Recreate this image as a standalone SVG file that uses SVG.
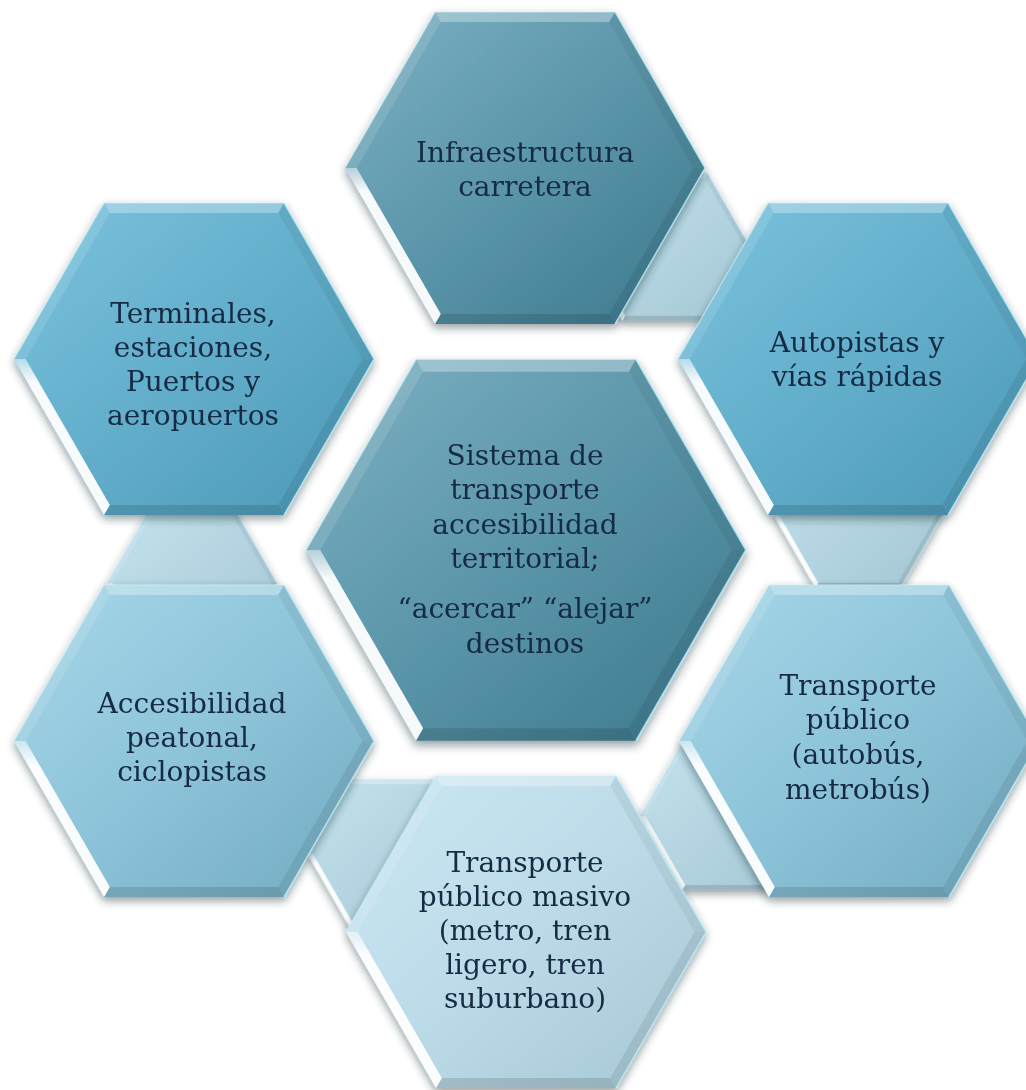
<svg xmlns="http://www.w3.org/2000/svg" xmlns:xlink="http://www.w3.org/1999/xlink" width="1026" height="1090" viewBox="0 0 1026 1090">
<defs>
<linearGradient id="gDark" x1="0" y1="0" x2="1" y2="1">
<stop offset="0" stop-color="#7db1c3"/><stop offset="0.5" stop-color="#5b95a9"/><stop offset="1" stop-color="#3b788c"/>
</linearGradient>
<linearGradient id="gMid" x1="0" y1="0" x2="1" y2="1">
<stop offset="0" stop-color="#7cc3de"/><stop offset="0.5" stop-color="#62aecb"/><stop offset="1" stop-color="#4b98b6"/>
</linearGradient>
<linearGradient id="gLow" x1="0" y1="0" x2="1" y2="1">
<stop offset="0" stop-color="#a8d7e9"/><stop offset="0.5" stop-color="#8dc4d9"/><stop offset="1" stop-color="#72aac0"/>
</linearGradient>
<linearGradient id="gBot" x1="0" y1="0" x2="1" y2="1">
<stop offset="0" stop-color="#cbe8f4"/><stop offset="0.5" stop-color="#bcdbe8"/><stop offset="1" stop-color="#a5c6d3"/>
</linearGradient>
<linearGradient id="gConn" x1="0" y1="0" x2="1" y2="1">
<stop offset="0" stop-color="#c4e3ef"/><stop offset="1" stop-color="#a4c6d3"/>
</linearGradient>
<linearGradient id="gStrip" x1="0" y1="0" x2="0" y2="1">
<stop offset="0" stop-color="#ffffff" stop-opacity="0.5"/><stop offset="0.15" stop-color="#ffffff" stop-opacity="0.95"/><stop offset="1" stop-color="#ffffff" stop-opacity="0.95"/>
</linearGradient>
<filter id="sh" x="-15%" y="-15%" width="130%" height="135%">
<feDropShadow dx="0" dy="4" stdDeviation="4" flood-color="#1a2a33" flood-opacity="0.45"/>
</filter>
<g id="hex">
<polygon points="-180,0 -90,-156 90,-156 180,0 90,156 -90,156"/>
<polygon points="-90,-156 90,-156 84.2,-145.9 -84.2,-145.9" fill="#ffffff" fill-opacity="0.3"/>
<polygon points="-180,0 -90,-156 -84.2,-145.9 -168.4,0" fill="#ffffff" fill-opacity="0.12"/>
<polygon points="90,-156 180,0 168.4,0 84.2,-145.9" fill="#000000" fill-opacity="0.05"/>
<polygon points="180,0 90,156 84.2,145.9 168.4,0" fill="#000000" fill-opacity="0.08"/>
<polygon points="90,156 -90,156 -84.2,145.9 84.2,145.9" fill="#000000" fill-opacity="0.12"/>
<polygon points="-180,0 -90,156 -84.2,145.9 -168.4,0" fill="url(#gStrip)"/>
<polyline points="90,-156 180,0 90,156" fill="none" stroke="#b6ecf8" stroke-width="1.5" stroke-opacity="0.8"/>
<polyline points="-180,0 -90,-156 90,-156" fill="none" stroke="#c6f0fa" stroke-width="1.2" stroke-opacity="0.7"/>
</g>
<style>
text { font-family: 'DejaVu Serif', 'Liberation Serif', serif; font-size: 28px; fill: #162a44; text-anchor: middle; }
</style>
</defs>
<rect width="1026" height="1090" fill="#ffffff"/>
<g id="connectors" filter="url(#sh)">
<use xlink:href="#hex" href="#hex" fill="url(#gConn)" transform="translate(665,247) scale(0.472)"/>
<use xlink:href="#hex" href="#hex" fill="url(#gConn)" transform="translate(858,514) scale(0.472)"/>
<use xlink:href="#hex" href="#hex" fill="url(#gConn)" transform="translate(725,816) scale(0.472)"/>
<use xlink:href="#hex" href="#hex" fill="url(#gConn)" transform="translate(392,853) scale(0.472)"/>
<use xlink:href="#hex" href="#hex" fill="url(#gConn)" transform="translate(192,583) scale(0.472)"/>
</g>
<g id="node-infraestructura">
<use xlink:href="#hex" href="#hex" fill="url(#gDark)" filter="url(#sh)" transform="translate(525,168)"/>
<text x="525" y="162">Infraestructura</text>
<text x="525" y="196">carretera</text>
</g>
<g id="node-terminales">
<use xlink:href="#hex" href="#hex" fill="url(#gMid)" filter="url(#sh)" transform="translate(194,359)"/>
<text x="193" y="323">Terminales,</text>
<text x="193" y="357">estaciones,</text>
<text x="193" y="391">Puertos y</text>
<text x="193" y="425">aeropuertos</text>
</g>
<g id="node-autopistas">
<use xlink:href="#hex" href="#hex" fill="url(#gMid)" filter="url(#sh)" transform="translate(858,359)"/>
<text x="857" y="352">Autopistas y</text>
<text x="857" y="386">vías rápidas</text>
</g>
<g id="node-accesibilidad">
<use xlink:href="#hex" href="#hex" fill="url(#gLow)" filter="url(#sh)" transform="translate(194,741)"/>
<text x="192" y="713">Accesibilidad</text>
<text x="192" y="747">peatonal,</text>
<text x="192" y="781">ciclopistas</text>
</g>
<g id="node-transporte-publico">
<use xlink:href="#hex" href="#hex" fill="url(#gLow)" filter="url(#sh)" transform="translate(859,741)"/>
<text x="858" y="695">Transporte</text>
<text x="858" y="729">público</text>
<text x="858" y="764">(autobús,</text>
<text x="858" y="799">metrobús)</text>
</g>
<g id="node-transporte-masivo">
<use xlink:href="#hex" href="#hex" fill="url(#gBot)" filter="url(#sh)" transform="translate(526,932)"/>
<text x="525" y="872">Transporte</text>
<text x="525" y="906">público masivo</text>
<text x="525" y="940">(metro, tren</text>
<text x="525" y="974">ligero, tren</text>
<text x="525" y="1008">suburbano)</text>
</g>
<g id="node-sistema">
<use xlink:href="#hex" href="#hex" fill="url(#gDark)" filter="url(#sh)" transform="translate(526,550) scale(1.222)"/>
<text x="525" y="465">Sistema de</text>
<text x="525" y="499">transporte</text>
<text x="525" y="534">accesibilidad</text>
<text x="525" y="568">territorial;</text>
<text x="525" y="618">“acercar” “alejar”</text>
<text x="525" y="653">destinos</text>
</g>
</svg>
